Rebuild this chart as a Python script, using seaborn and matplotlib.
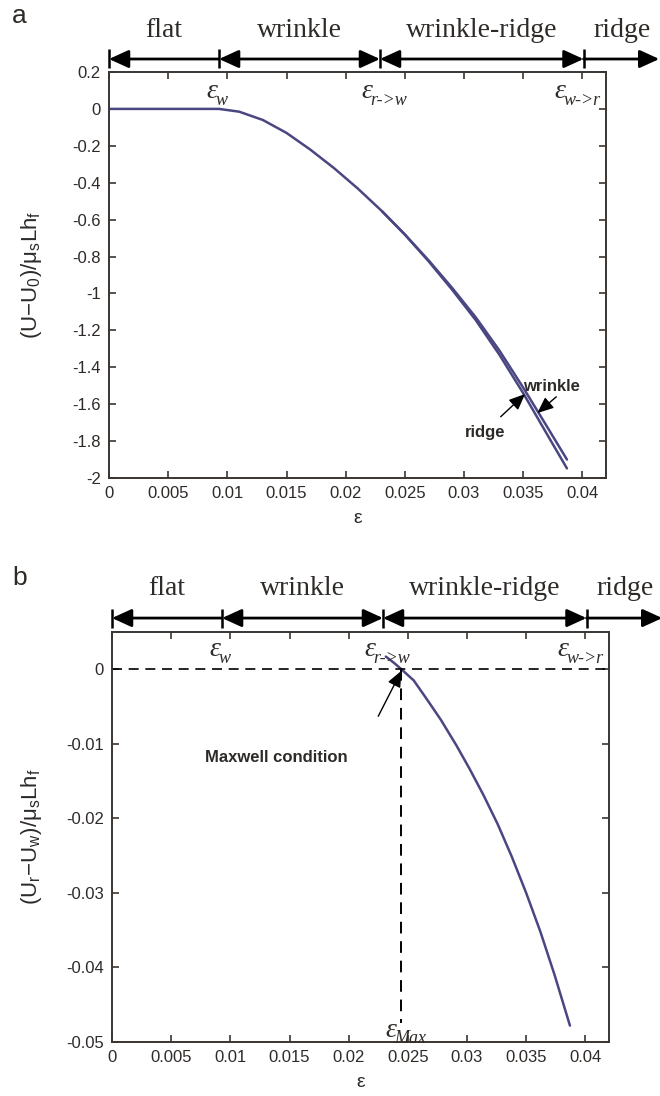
import numpy as np
import pandas as pd
import matplotlib
matplotlib.use("Agg")
import matplotlib.pyplot as plt
import matplotlib.transforms as mtransforms
import seaborn as sns

# ---------------- data ----------------
eps_wrinkle = [0.0, 0.005, 0.0093, 0.011, 0.013, 0.015, 0.017, 0.019, 0.021, 0.023,
               0.025, 0.027, 0.029, 0.031, 0.033, 0.035, 0.037, 0.0387]
U_wrinkle = [0.0, 0.0, 0.0, -0.015, -0.06, -0.13, -0.22, -0.32, -0.43, -0.55,
             -0.68, -0.82, -0.97, -1.13, -1.31, -1.51, -1.72, -1.90]

eps_ridge = [0.0231, 0.025, 0.027, 0.029, 0.031, 0.033, 0.035, 0.037, 0.0387]
U_ridge = [-0.556, -0.681, -0.825, -0.980, -1.145, -1.333, -1.540, -1.761, -1.948]

eps_diff = [0.02314, 0.0238, 0.02446, 0.0255, 0.0266, 0.0278, 0.0291, 0.0302, 0.0314,
            0.0326, 0.0338, 0.0350, 0.0362, 0.0374, 0.0387]
U_diff = [0.0017, 0.0009, 0.0, -0.0015, -0.0040, -0.0068, -0.0102, -0.0133, -0.0169,
          -0.0208, -0.0252, -0.0300, -0.0352, -0.0410, -0.0478]

eps_w, eps_rw, eps_wr, eps_max = 0.0093, 0.0229, 0.0401, 0.02446
regimes = ["flat", "wrinkle", "wrinkle-ridge", "ridge"]

xticks = [0, 0.005, 0.01, 0.015, 0.02, 0.025, 0.03, 0.035, 0.04]
xtick_labels = ["0", "0.005", "0.01", "0.015", "0.02", "0.025", "0.03", "0.035", "0.04"]
yticks_a = [0.2, 0, -0.2, -0.4, -0.6, -0.8, -1.0, -1.2, -1.4, -1.6, -1.8, -2.0]
ytick_labels_a = ["0.2", "0", "-0.2", "-0.4", "-0.6", "-0.8", "-1", "-1.2", "-1.4",
                  "-1.6", "-1.8", "-2"]
yticks_b = [0, -0.01, -0.02, -0.03, -0.04, -0.05]
ytick_labels_b = ["0", "-0.01", "-0.02", "-0.03", "-0.04", "-0.05"]

# ---------------- style ----------------
sns.set_style("ticks")
plt.rcParams["font.family"] = ["Liberation Sans", "DejaVu Sans"]
plt.rcParams["axes.unicode_minus"] = False

LINE = "#4a4682"
SPINE = "#3b3532"
TXT = "#2e2a28"

fig = plt.figure(figsize=(6.6, 10.96), dpi=100)
W, H = 660.0, 1096.0
axa = fig.add_axes([109 / W, 1 - 478 / H, 497 / W, 406 / H])
axb = fig.add_axes([112 / W, 1 - 1042 / H, 497 / W, 410 / H])

df_w = pd.DataFrame({"eps": eps_wrinkle, "U": U_wrinkle})
df_r = pd.DataFrame({"eps": eps_ridge, "U": U_ridge})
df_d = pd.DataFrame({"eps": eps_diff, "U": U_diff})

sns.lineplot(data=df_w, x="eps", y="U", ax=axa, color=LINE, lw=1.8, sort=False)
sns.lineplot(data=df_r, x="eps", y="U", ax=axa, color=LINE, lw=1.8, sort=False)
sns.lineplot(data=df_d, x="eps", y="U", ax=axb, color=LINE, lw=1.8, sort=False)


def style_axes(ax, yticks, ylabels, ylim):
    ax.set_xlim(0, 0.042)
    ax.set_ylim(*ylim)
    ax.set_xticks(xticks)
    ax.set_xticklabels(xtick_labels)
    ax.set_yticks(yticks)
    ax.set_yticklabels(ylabels)
    ax.tick_params(direction="in", top=True, right=True, length=5, width=1.2,
                   colors=SPINE, labelcolor=TXT, labelsize=12, pad=6)
    for s in ax.spines.values():
        s.set_visible(True)
        s.set_color(SPINE)
        s.set_linewidth(1.4)
    ax.set_xlabel("ε", fontsize=14, color=TXT, labelpad=6)


style_axes(axa, yticks_a, ytick_labels_a, (-2.0, 0.2))
style_axes(axb, yticks_b, ytick_labels_b, (-0.05, 0.005))
axa.set_ylabel(r"$\mathregular{(U{-}U_0)/μ_sLh_f}$", fontsize=16, color=TXT, labelpad=20)
axb.set_ylabel(r"$\mathregular{(U_r{-}U_w)/μ_sLh_f}$", fontsize=16, color=TXT, labelpad=16)


def regime_bar(ax, y_arrow, y_text, bar_lo, bar_hi, x_end=0.0465):
    tr = mtransforms.blended_transform_factory(ax.transData, ax.transAxes)
    for b in [0.0, eps_w, eps_rw, eps_wr]:
        ax.plot([b, b], [bar_lo, bar_hi], transform=tr, color="black", lw=1.8,
                clip_on=False, solid_capstyle="butt")
    segs = [(0.0, eps_w, "<|-"), (eps_w, eps_rw, "<|-|>"),
            (eps_rw, eps_wr, "<|-|>"), (eps_wr, x_end, "-|>")]
    for (x0, x1, st), name in zip(segs, regimes):
        ax.annotate("", xy=(x1, y_arrow), xytext=(x0, y_arrow), xycoords=tr,
                    textcoords=tr, annotation_clip=False,
                    arrowprops=dict(arrowstyle=st + ",head_length=0.7,head_width=0.32",
                                    color="black", lw=2.0, shrinkA=0, shrinkB=0,
                                    mutation_scale=17))
        xc = (x0 + x1) / 2 if name != "ridge" else 0.0434
        ax.text(xc, y_text, name, transform=tr, ha="center", va="center",
                family="Liberation Serif", fontsize=20, color=TXT, clip_on=False)


def eps_label(ax, x, sub, y_frac, tr=None, size=20, subsize=13, dy_sub=-9):
    if tr is None:
        tr = mtransforms.blended_transform_factory(ax.transData, ax.transAxes)
    ax.annotate("ε", xy=(x, y_frac), xycoords=tr, xytext=(-5, 0),
                textcoords="offset pixels", ha="right", va="center",
                family="Liberation Serif", style="italic", fontsize=size,
                color=TXT, annotation_clip=False)
    ax.annotate(sub, xy=(x, y_frac), xycoords=tr, xytext=(-7, dy_sub),
                textcoords="offset pixels", ha="left", va="center",
                family="Liberation Serif", style="italic", fontsize=subsize,
                color=TXT, annotation_clip=False)


eps_label_pos = [(eps_w + 0.0003, "w"), (eps_rw - 0.0002, "r->w"), (eps_wr - 0.0011, "w->r")]

# panel a decorations
regime_bar(axa, 1.032, 1.103, 1.010, 1.057)
for x, s in eps_label_pos:
    eps_label(axa, x, s, 0.953)

arrow_kw = dict(arrowstyle="-|>,head_length=0.7,head_width=0.3",
                color="black", lw=1.0, shrinkA=0, shrinkB=0, mutation_scale=14)
axa.text(0.0374, -1.505, "wrinkle", fontsize=12, fontweight="bold", color=TXT,
         ha="center", va="center")
axa.annotate("", xy=(0.0362, -1.648), xytext=(0.0378, -1.560), arrowprops=arrow_kw)
axa.text(0.0318, -1.752, "ridge", fontsize=12, fontweight="bold", color=TXT,
         ha="center", va="center")
axa.annotate("", xy=(0.03516, -1.545), xytext=(0.0331, -1.668), arrowprops=arrow_kw)

# panel b decorations
regime_bar(axb, 1.034, 1.105, 1.010, 1.056)
for x, s in eps_label_pos:
    eps_label(axb, x, s, 0.957)

axb.axhline(0, color="black", lw=1.2, ls=(0, (6, 4)))
axb.plot([eps_max, eps_max], [0, -0.0475], color="black", lw=1.4, ls=(0, (6, 4)))
axb.text(0.0139, -0.0118, "Maxwell condition", fontsize=12, fontweight="bold",
         color=TXT, ha="center", va="center")
axb.annotate("", xy=(eps_max, -0.0002), xytext=(0.0225, -0.0063), arrowprops=arrow_kw)
eps_label(axb, eps_max, "Max", -0.0484, tr=axb.transData, dy_sub=-8)

fig.text(12 / W, 1 - 16 / H, "a", fontsize=19, color=TXT, va="center", ha="left")
fig.text(12 / W, 1 - 578 / H, "b", fontsize=19, color=TXT, va="center", ha="left")

fig.savefig("out.png", dpi=100)
